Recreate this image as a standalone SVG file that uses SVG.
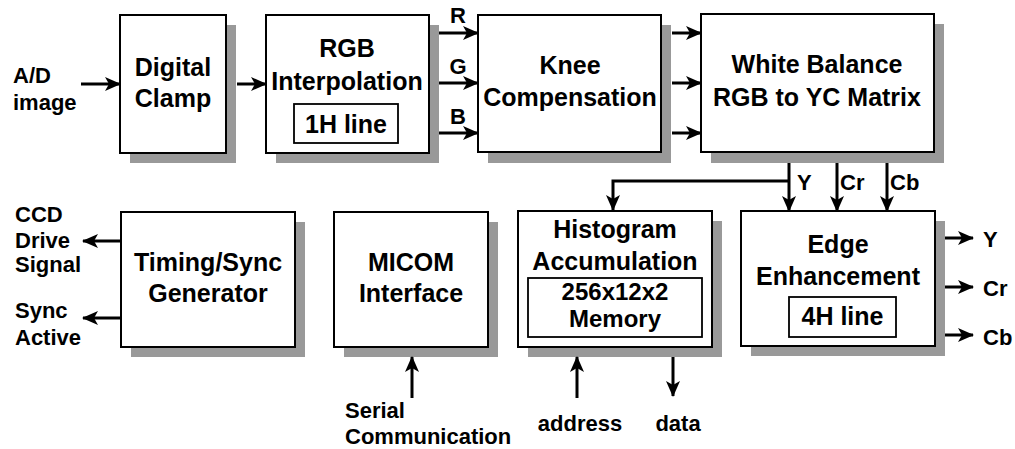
<svg xmlns="http://www.w3.org/2000/svg" width="1015" height="449" viewBox="0 0 1015 449">
<defs>
<marker id="ah" markerUnits="userSpaceOnUse" markerWidth="16" markerHeight="14" refX="15" refY="7" orient="auto">
<path d="M0,0 L16,7 L0,14 L4,7 Z" fill="#000"/>
</marker>
</defs>
<style>
text{font-family:"Liberation Sans",Arial,sans-serif;font-weight:bold;fill:#000}
.t{font-size:25px;text-anchor:middle}
.s{font-size:22px}
.m{font-size:24px;text-anchor:middle}
.box{fill:#fff;stroke:#000;stroke-width:2}
.in{fill:#fff;stroke:#000;stroke-width:1.8}
.sh{fill:#999}
.c line,.c path{stroke:#000;stroke-width:3;fill:none;marker-end:url(#ah)}
.c path.n{marker-end:none}
</style>
<rect width="1015" height="449" fill="#fff"/>

<g id="digital-clamp">
<rect class="sh" x="130" y="25" width="106" height="138"/>
<rect class="box" x="120" y="15" width="106" height="138"/>
<text class="t" x="173" y="76">Digital</text>
<text class="t" x="173" y="107">Clamp</text>
</g>

<g id="rgb-interpolation">
<rect class="sh" x="276" y="25" width="163" height="138"/>
<rect class="box" x="266" y="15" width="163" height="138"/>
<text class="t" x="347" y="57">RGB</text>
<text class="t" x="347" y="90">Interpolation</text>
<rect class="in" x="294" y="104" width="104" height="39"/>
<text class="t" x="346" y="133">1H line</text>
</g>

<g id="knee-compensation">
<rect class="sh" x="488" y="25" width="183" height="138"/>
<rect class="box" x="478" y="15" width="183" height="137"/>
<text class="t" x="570" y="74">Knee</text>
<text class="t" x="570" y="106">Compensation</text>
</g>

<g id="white-balance">
<rect class="sh" x="711" y="24" width="233" height="139"/>
<rect class="box" x="701" y="14" width="233" height="138"/>
<text class="t" x="817" y="73">White Balance</text>
<text class="t" x="817" y="106">RGB to YC Matrix</text>
</g>

<g id="timing-sync">
<rect class="sh" x="131" y="222" width="174" height="135"/>
<rect class="box" x="121" y="212" width="174" height="135"/>
<text class="t" x="208" y="271">Timing/Sync</text>
<text class="t" x="208" y="302">Generator</text>
</g>

<g id="micom">
<rect class="sh" x="344" y="222" width="154" height="135"/>
<rect class="box" x="334" y="212" width="154" height="135"/>
<text class="t" x="411" y="271">MICOM</text>
<text class="t" x="411" y="302">Interface</text>
</g>

<g id="histogram">
<rect class="sh" x="528" y="221" width="194" height="136"/>
<rect class="box" x="518" y="211" width="194" height="136"/>
<text class="t" x="615" y="238">Histogram</text>
<text class="t" x="615" y="270">Accumulation</text>
<rect class="in" x="528" y="278" width="174" height="59"/>
<text class="m" x="615" y="300">256x12x2</text>
<text class="m" x="615" y="327">Memory</text>
</g>

<g id="edge-enhancement">
<rect class="sh" x="751" y="221" width="194" height="135"/>
<rect class="box" x="741" y="211" width="194" height="135"/>
<text class="t" x="838" y="253">Edge</text>
<text class="t" x="838" y="285">Enhancement</text>
<rect class="in" x="789" y="297" width="107" height="40"/>
<text class="t" x="842.5" y="325">4H line</text>
</g>

<g id="connectors" class="c">
<line x1="81" y1="84" x2="120" y2="84"/>
<line x1="237" y1="84" x2="266" y2="84"/>
<line x1="439" y1="33" x2="478" y2="33"/>
<line x1="439" y1="83" x2="478" y2="83"/>
<line x1="439" y1="133" x2="478" y2="133"/>
<line x1="672" y1="33" x2="701" y2="33"/>
<line x1="672" y1="83" x2="701" y2="83"/>
<line x1="672" y1="133" x2="701" y2="133"/>
<line x1="789" y1="163" x2="789" y2="211"/>
<line x1="837" y1="163" x2="837" y2="211"/>
<line x1="887" y1="163" x2="887" y2="211"/>
<path d="M789,181 H613 V210"/>
<line x1="121" y1="241" x2="83" y2="241"/>
<line x1="121" y1="318" x2="83" y2="318"/>
<line x1="412" y1="398" x2="412" y2="357"/>
<line x1="577" y1="398" x2="577" y2="357"/>
<line x1="673" y1="357" x2="673" y2="396"/>
<line x1="945" y1="238" x2="973" y2="238"/>
<line x1="945" y1="287" x2="973" y2="287"/>
<line x1="945" y1="335" x2="973" y2="335"/>
</g>

<g id="labels">
<text class="s" x="13" y="83">A/D</text>
<text class="s" x="13" y="110">image</text>
<text class="s" x="458" y="23" text-anchor="middle">R</text>
<text class="s" x="458" y="74" text-anchor="middle">G</text>
<text class="s" x="458" y="124" text-anchor="middle">B</text>
<text class="s" x="797" y="190">Y</text>
<text class="s" x="840" y="190">Cr</text>
<text class="s" x="890" y="190">Cb</text>
<text class="s" x="15" y="222">CCD</text>
<text class="s" x="15" y="248">Drive</text>
<text class="s" x="15" y="272">Signal</text>
<text class="s" x="15" y="318">Sync</text>
<text class="s" x="15" y="345">Active</text>
<text class="s" x="345" y="418">Serial</text>
<text class="s" x="345" y="444">Communication</text>
<text class="s" x="580" y="431" text-anchor="middle">address</text>
<text class="s" x="678" y="431" text-anchor="middle">data</text>
<text class="s" x="983" y="247">Y</text>
<text class="s" x="983" y="296">Cr</text>
<text class="s" x="983" y="345">Cb</text>
</g>
</svg>
